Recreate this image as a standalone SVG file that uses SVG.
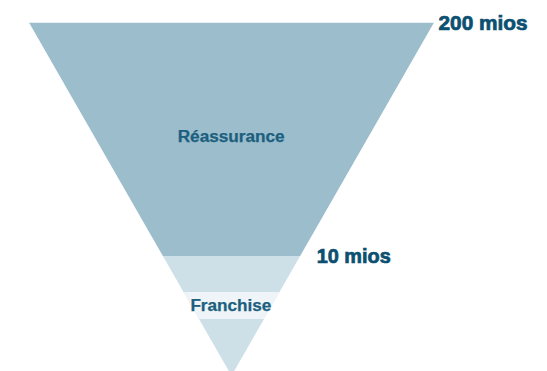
<svg xmlns="http://www.w3.org/2000/svg" width="547" height="371" viewBox="0 0 547 371">
  <style>
    .lbl { font-family: "Liberation Sans", Arial, sans-serif; font-weight: bold; }
    .big { font-size: 20px; fill: #0b5071; stroke: #0b5071; stroke-width: 0.7; }
    .inner { font-size: 16px; fill: #1c5f7f; stroke: #1c5f7f; stroke-width: 0.25; text-anchor: middle; }
  </style>
  <defs>
    <clipPath id="tri">
      <polygon points="29,22.5 434,22.5 231.5,375.7"/>
    </clipPath>
  </defs>
  <g id="funnel" clip-path="url(#tri)">
    <g id="reassurance">
      <rect x="0" y="22.5" width="547" height="233.5" fill="#9bbdcc"/>
    </g>
    <g id="franchise">
      <rect x="0" y="256" width="547" height="120" fill="#cde0e7"/>
      <rect x="183" y="292" width="100" height="27" fill="#ffffff" fill-opacity="0.65"/>
    </g>
  </g>
  <g id="labels">
    <text class="lbl inner" x="231.2" y="142" textLength="107" lengthAdjust="spacingAndGlyphs">Réassurance</text>
    <text class="lbl inner" x="230.9" y="311" textLength="81" lengthAdjust="spacingAndGlyphs">Franchise</text>
    <text class="lbl big" x="438.5" y="29.5" textLength="89" lengthAdjust="spacingAndGlyphs">200 mios</text>
    <text class="lbl big" x="316.7" y="262.7" textLength="74" lengthAdjust="spacingAndGlyphs">10 mios</text>
  </g>
</svg>
